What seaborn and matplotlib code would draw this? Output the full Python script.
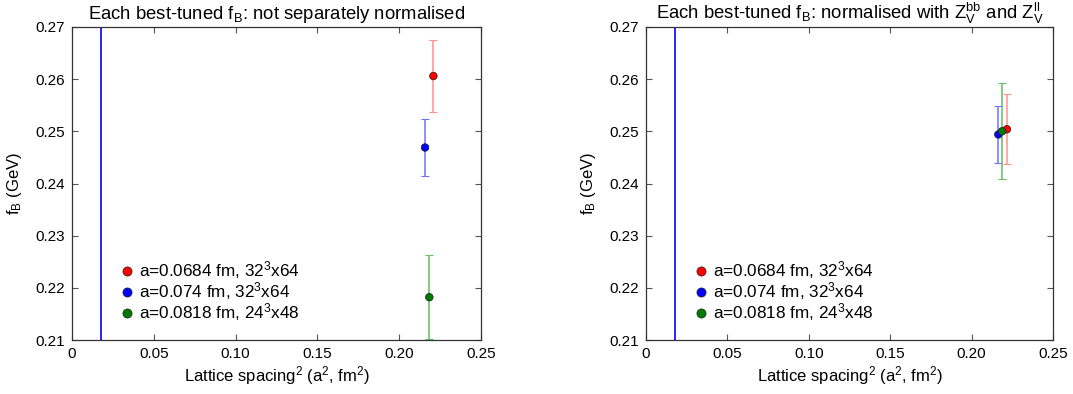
import pandas as pd
import matplotlib
matplotlib.use("Agg")
import matplotlib.pyplot as plt
import seaborn as sns

# values
ensembles = ["a=0.0684 fm, 32$^3$x64", "a=0.074 fm, 32$^3$x64", "a=0.0818 fm, 24$^3$x48"]
colours = ["#ff0000", "#0000ff", "#007a00"]
bar_colours = ["#ff9090", "#7070ff", "#66bb66"]

a2_left = [0.2209, 0.2158, 0.2184]
fb_left = [0.2606, 0.2469, 0.2182]
err_left = [0.0069, 0.0054, 0.0081]

a2_right = [0.2217, 0.2164, 0.2187]
fb_right = [0.2504, 0.2494, 0.2500]
err_right = [0.0067, 0.0054, 0.0092]

vline_x = 0.018

titles = ["Each best-tuned f$_\\mathrm{B}$: not separately normalised",
          "Each best-tuned f$_\\mathrm{B}$: normalised with Z$_\\mathrm{V}^\\mathrm{bb}$ and Z$_\\mathrm{V}^\\mathrm{ll}$"]
xticks = [0, 0.05, 0.10, 0.15, 0.20, 0.25]
xticklabels = ["0", "0.05", "0.10", "0.15", "0.20", "0.25"]
yticks = [0.21, 0.22, 0.23, 0.24, 0.25, 0.26, 0.27]

sns.set_style("ticks")
plt.rcParams["font.family"] = ["Liberation Sans", "DejaVu Sans"]
plt.rcParams["mathtext.fontset"] = "custom"
plt.rcParams["mathtext.rm"] = "Liberation Sans"
plt.rcParams["mathtext.it"] = "Liberation Sans:italic"
plt.rcParams["mathtext.bf"] = "Liberation Sans:bold"
plt.rcParams["text.color"] = "black"
plt.rcParams["axes.labelcolor"] = "black"
plt.rcParams["xtick.color"] = "black"
plt.rcParams["ytick.color"] = "black"

fig = plt.figure(figsize=(10.73, 3.94), dpi=100)
ax1 = fig.add_axes([72 / 1073, 1 - 340 / 394, 409 / 1073, 313 / 394])
ax2 = fig.add_axes([646 / 1073, 1 - 340 / 394, 407 / 1073, 313 / 394])

for ax, xs, ys, es, title in [(ax1, a2_left, fb_left, err_left, titles[0]),
                              (ax2, a2_right, fb_right, err_right, titles[1])]:
    df = pd.DataFrame({"a2": xs, "fB": ys, "err": es, "ensemble": ensembles})
    ax.axvline(vline_x, color="#0000ff", lw=1.2, zorder=1)
    for i, row in df.iterrows():
        ax.errorbar(row["a2"], row["fB"], yerr=row["err"], fmt="none",
                    ecolor=bar_colours[i], elinewidth=1.1, capsize=3, capthick=0.8, zorder=2)
    sns.scatterplot(data=df, x="a2", y="fB", hue="ensemble", hue_order=ensembles,
                    palette=colours, s=30, edgecolor="#202020", linewidth=0.5, ax=ax, zorder=3)
    ax.set_xlim(0, 0.25)
    ax.set_ylim(0.21, 0.27)
    ax.set_xticks(xticks)
    ax.set_xticklabels(xticklabels)
    ax.set_yticks(yticks)
    ax.tick_params(direction="in", top=True, right=True, labelsize=11, length=4, width=0.8,
                   color="#555555", pad=5)
    for s in ax.spines.values():
        s.set_color("#333333")
        s.set_linewidth(0.9)
    ax.set_xlabel("Lattice spacing$^2$ (a$^2$, fm$^2$)", fontsize=12, labelpad=2)
    ax.set_ylabel("f$_\\mathrm{B}$ (GeV)", fontsize=12, labelpad=8)
    ax.set_title(title, fontsize=13.3, pad=6)
    leg = ax.legend(loc="lower left", bbox_to_anchor=(0.08, 0.01), frameon=False, fontsize=12.3,
                    handletextpad=0.2, handlelength=1.0, labelspacing=-0.05, borderpad=0.3,
                    markerscale=1.2)

fig.savefig("out.png", dpi=100)
plt.close(fig)
